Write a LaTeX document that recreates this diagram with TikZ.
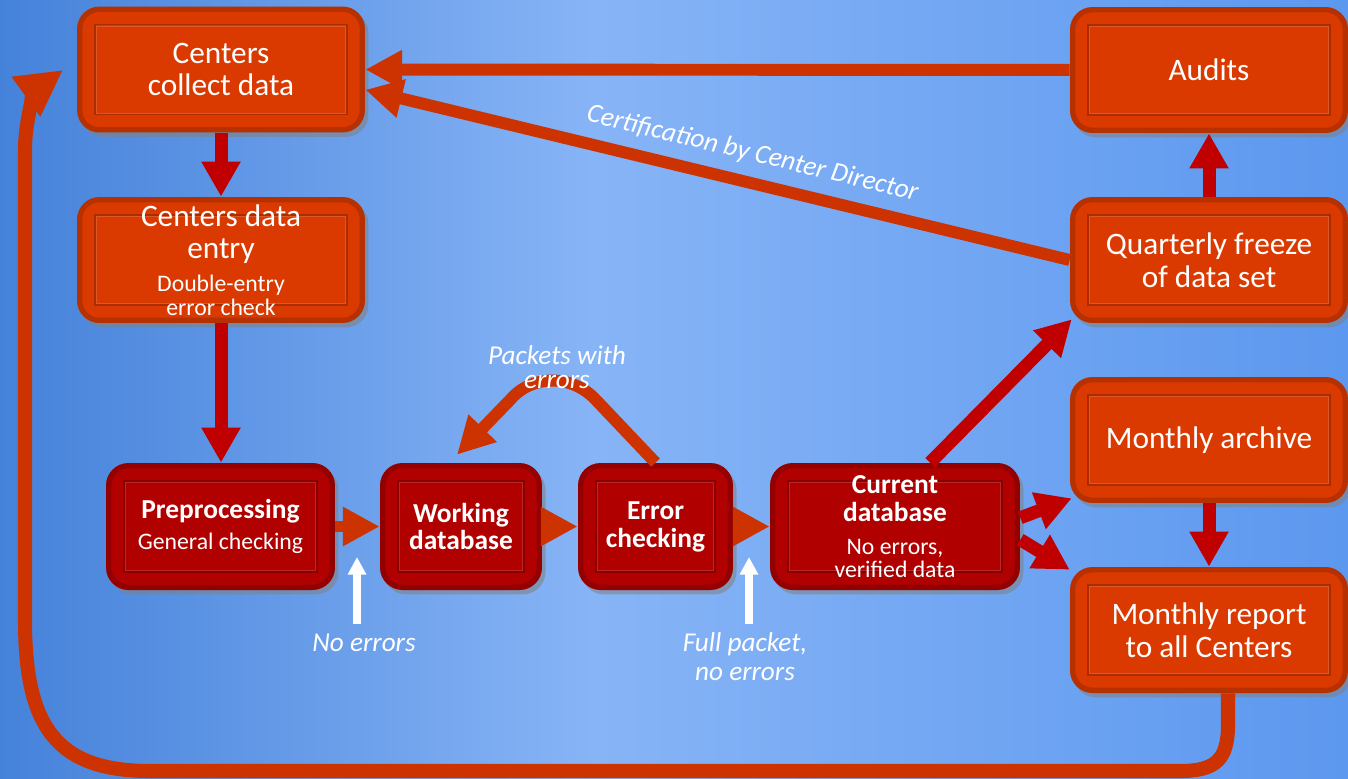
\documentclass[tikz,border=0pt]{standalone}
\usepackage{fontspec}
\setmainfont{Carlito}
\usetikzlibrary{arrows.meta,shadows}

\definecolor{bgleft}{HTML}{4582DA}
\definecolor{bgmid}{HTML}{87B4F6}
\definecolor{bgright}{HTML}{5C98EF}
\definecolor{boxorange}{HTML}{DA3A00}
\definecolor{boxred}{HTML}{B00000}
\definecolor{arroworange}{HTML}{CC3300}
\definecolor{arrowred}{HTML}{C00000}

\pgfdeclarehorizontalshading{backdrop}{100bp}{color(0bp)=(bgleft); color(25bp)=(bgleft); color(47bp)=(bgmid); color(75bp)=(bgright); color(100bp)=(bgright)}

\newcommand{\bigtext}{\fontsize{17.8}{18.6}\selectfont}
\newcommand{\subtext}{\mdseries\fontsize{13.5}{13.6}\selectfont}
\newcommand{\headtext}{\bfseries\fontsize{15.6}{15.9}\selectfont}

\tikzstyle{panel}=[rounded corners=0.45cm, align=center, text=white, inner sep=0pt,
  drop shadow={shadow xshift=2pt, shadow yshift=-2.5pt, opacity=0.55},
  path picture={
    \draw[line width=6pt, rounded corners=0.45cm, black, opacity=0.16]
      (path picture bounding box.south west) rectangle (path picture bounding box.north east);
    \draw[sharp corners, line width=0.7pt, black, opacity=0.22]
      ([shift={(0.36cm,-0.36cm)}]path picture bounding box.north west) rectangle ([shift={(-0.36cm,0.36cm)}]path picture bounding box.south east);
    \draw[sharp corners, line width=0.5pt, white, opacity=0.15]
      ([shift={(0.39cm,-0.39cm)}]path picture bounding box.north west) rectangle ([shift={(-0.39cm,0.39cm)}]path picture bounding box.south east);
  }]
\tikzstyle{stage}=[panel, fill=boxorange, minimum width=5.76cm, minimum height=2.52cm, font=\bigtext]
\tikzstyle{side}=[stage, minimum width=5.56cm]
\tikzstyle{process}=[panel, fill=boxred, minimum height=2.54cm, font=\headtext]
\tikzstyle{flow}=[draw, line width=6.8pt, arroworange, -{Triangle[width=21pt,length=21pt]}]
\tikzstyle{redflow}=[draw, line width=7.4pt, arrowred, -{Triangle[width=21pt,length=20pt]}]
\tikzstyle{feedback}=[draw, line width=8pt, arroworange, -{Triangle[width=26pt,length=26pt]}]
\tikzstyle{pass}=[draw, line width=4pt, white, -{Triangle[width=10pt,length=10pt]}]
\tikzstyle{note}=[text=white, align=center, font=\itshape\fontsize{15.5}{17}\selectfont]

\begin{document}
\begin{tikzpicture}[x=0.02cm,y=-0.02cm]
	\shade[shading=backdrop] (0,0) rectangle (1348,778);
	\useasboundingbox (0,0) rectangle (1348,778);
		% Centers and the quarterly side
		\node[stage] (collect) at (221,69.5) {Centers\\collect data};
		\node[stage] (entry) at (221,260) {Centers data\\entry\\{\subtext Double-entry}\\[-5pt]{\subtext error check}};
		\node[side] (audits) at (1209,70) {Audits};
		\node[side] (freeze) at (1209,260) {Quarterly freeze\\of data set};
		\node[side] (archive) at (1209,440) {Monthly archive};
		\node[side] (report) at (1209,630) {Monthly report\\to all Centers};
		% Processing row
		\node[process, minimum width=4.58cm] (prep) at (220.5,526.5) {Preprocessing\\[2.2pt]{\subtext General checking}};
		\node[process, minimum width=3.24cm] (work) at (461,526.5) {Working\\database};
		\node[process, minimum width=3.1cm] (errchk) at (655.5,526.5) {Error\\checking};
		\node[process, minimum width=5cm] (current) at (895,526.5) {Current\\database\\[2.8pt]{\subtext No errors,}\\[-2.9pt]{\subtext verified data}};
		\coordinate (noerr) at (357,624);
		\coordinate (noerrtip) at (357,557);
		\coordinate (fullpk) at (749,624);
		\coordinate (fullpktip) at (749,557);
		\coordinate (loopend) at (63,70);
    		% Connect the boxes
   		 \foreach \source/ \dest in {prep/work, work/errchk, errchk/current, audits/collect}
		 \path[flow] (\source) -- (\dest);
   		 \foreach \source/ \dest in {collect/entry, archive/report, freeze/audits}
		 \path[redflow] (\source) -- (\dest);
		\path[redflow] (entry.south) -- (entry.south |- prep.north);
		\path[redflow] ([shift={(35,0)}]current.north) -- ([shift={(2,-4)}]freeze.south west);
		\path[redflow] (current.4) -- ([shift={(2,-5)}]archive.south west);
		\path[redflow] (current.-6) -- ([shift={(0,3)}]report.north west);
		\path[flow] (freeze.west) -- node[note, sloped, above=3pt, pos=0.46] {Certification by Center Director} (collect.-8);
		\path[flow] (errchk.north) -- (596,400) .. controls (572,374) and (532,374) .. (510,400) -- ([shift={(-4,-8)}]work.north);
		\path[feedback] ([shift={(19,0)}]report.south) -- (1228,725) .. controls (1228,760) and (1215,771) .. (1180,771) -- (150,771) .. controls (55,771) and (25,725) .. (25,620) -- (25,150) .. controls (25,115) and (38,88) .. (loopend);
		\path[pass] (noerr) -- (noerrtip);
		\path[pass] (fullpk) -- (fullpktip);
		% Labels
		\node[note] (packets) at (557,367) {Packets with\\[-3.4pt]errors};
		\node[note] (noerrlabel) at (364,643) {No errors};
		\node[note] (fulllabel) at (745,657) {Full packet,\\[-0.5pt]no errors};
\end{tikzpicture}
\end{document}
